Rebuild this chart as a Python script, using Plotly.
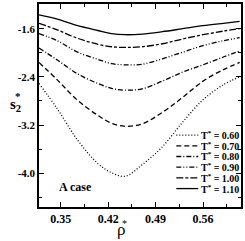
import plotly.graph_objects as go

rho = [0.318, 0.345, 0.375, 0.405, 0.425, 0.445, 0.47, 0.50, 0.53, 0.56, 0.59, 0.614]
s2_T060 = [-2.51, -2.93, -3.45, -3.84, -3.99, -4.05, -3.86, -3.56, -3.15, -2.78, -2.53, -2.40]
s2_T070 = [-2.16, -2.45, -2.79, -3.04, -3.17, -3.22, -3.18, -2.99, -2.74, -2.47, -2.28, -2.16]
s2_T080 = [-1.92, -2.12, -2.35, -2.51, -2.59, -2.62, -2.60, -2.47, -2.32, -2.20, -2.07, -1.97]
s2_T090 = [-1.68, -1.80, -1.99, -2.11, -2.18, -2.20, -2.19, -2.10, -1.99, -1.88, -1.80, -1.75]
s2_T100 = [-1.51, -1.62, -1.76, -1.86, -1.90, -1.91, -1.90, -1.85, -1.77, -1.70, -1.64, -1.60]
s2_T110 = [-1.37, -1.44, -1.55, -1.63, -1.68, -1.70, -1.69, -1.65, -1.60, -1.55, -1.51, -1.48]

series_names = ["T<sup>*</sup> = 0.60", "T<sup>*</sup> = 0.70", "T<sup>*</sup> = 0.80",
                "T<sup>*</sup> = 0.90", "T<sup>*</sup> = 1.00", "T<sup>*</sup> = 1.10"]
series_values = [s2_T060, s2_T070, s2_T080, s2_T090, s2_T100, s2_T110]
dashes = ["1px,2px", "5px,3px", "5px,2px,1px,2px", "5px,2px,1px,2px,1px,2px",
          "7px,2px,3px,2px", "solid"]

x_tickvals = [0.35, 0.42, 0.49, 0.56]
x_ticktext = ["0.35", "0.42", "0.49", "0.56"]
y_tickvals = [-1.6, -2.4, -3.2, -4.0]
y_ticktext = ["-1.6", "-2.4", "-3.2", "-4.0"]

W, H = 245, 241
L, R, T, B = 39, 3, 2, 34
PW, PH = W - L - R, H - T - B

def px(x):
    return (x - L) / PW

def py(y):
    return (H - B - y) / PH

fig = go.Figure()
for name, vals, d in zip(series_names, series_values, dashes):
    fig.add_trace(go.Scatter(x=rho, y=vals, mode="lines", name=name,
                             line=dict(color="black", width=1.3, dash=d, shape="spline"),
                             showlegend=False))

serif = "Liberation Serif"
axis_common = dict(showline=True, linecolor="black", linewidth=1.5, mirror="ticks",
                   ticks="inside", ticklen=5, tickwidth=1.2, tickcolor="black",
                   showgrid=False, zeroline=False,
                   tickfont=dict(family=serif, size=12, color="black", weight="bold"))

fig.update_xaxes(range=[0.318, 0.616], tickmode="array", tickvals=x_tickvals,
                 ticktext=x_ticktext,
                 minor=dict(tickvals=[0.385, 0.455, 0.525, 0.595], ticks="inside",
                            ticklen=3, tickcolor="black", tickwidth=1),
                 **axis_common)
axis_y = dict(axis_common)
axis_y["tickfont"] = dict(family=serif, size=11, color="black", weight="bold")
fig.update_yaxes(range=[-4.56, -1.19], tickmode="array", tickvals=y_tickvals,
                 ticktext=y_ticktext,
                 minor=dict(tickvals=[-2.0, -2.8, -3.6, -4.4], ticks="inside",
                            ticklen=3, tickcolor="black", tickwidth=1),
                 **axis_y)

# legend drawn manually (compact rows)
rows = [134.5, 145.3, 156.0, 166.8, 177.6, 188.4]
for name, d, yy in zip(series_names, dashes, rows):
    fig.add_shape(type="line", xref="paper", yref="paper",
                  x0=px(177), x1=px(199), y0=py(yy), y1=py(yy),
                  line=dict(color="black", width=1.3, dash=d))
    fig.add_annotation(xref="paper", yref="paper", x=px(241), y=py(yy),
                       xanchor="right", yanchor="middle", showarrow=False,
                       text="<b>" + name + "</b>", borderpad=0,
                       font=dict(family=serif, size=10, color="black"))

fig.add_annotation(xref="paper", yref="paper", x=px(57), y=py(187),
                   xanchor="left", yanchor="middle", showarrow=False,
                   text="<b>A case</b>", font=dict(family=serif, size=12, color="black"))

# axis titles
fig.add_annotation(xref="paper", yref="paper", x=px(15), y=py(104),
                   xanchor="center", yanchor="middle", showarrow=False,
                   text="<b>s<sub>2</sub></b>", font=dict(family=serif, size=15, color="black"))
fig.add_annotation(xref="paper", yref="paper", x=px(18), y=py(95),
                   xanchor="center", yanchor="middle", showarrow=False,
                   text="<b>*</b>", font=dict(family=serif, size=11, color="black"))
fig.add_annotation(xref="paper", yref="paper", x=px(121), y=py(230),
                   xanchor="center", yanchor="middle", showarrow=False,
                   text="ρ", font=dict(family=serif, size=17, color="black"))
fig.add_annotation(xref="paper", yref="paper", x=px(124.5), y=py(224),
                   xanchor="center", yanchor="middle", showarrow=False,
                   text="*", font=dict(family=serif, size=10, color="black"))

fig.update_layout(width=W, height=H, margin=dict(l=L, r=R, t=T, b=B),
                  paper_bgcolor="white", plot_bgcolor="white", showlegend=False)

fig.write_html("out.html", config={"displayModeBar": False},
               post_script="document.body.style.margin='0';document.body.style.padding='0';")
